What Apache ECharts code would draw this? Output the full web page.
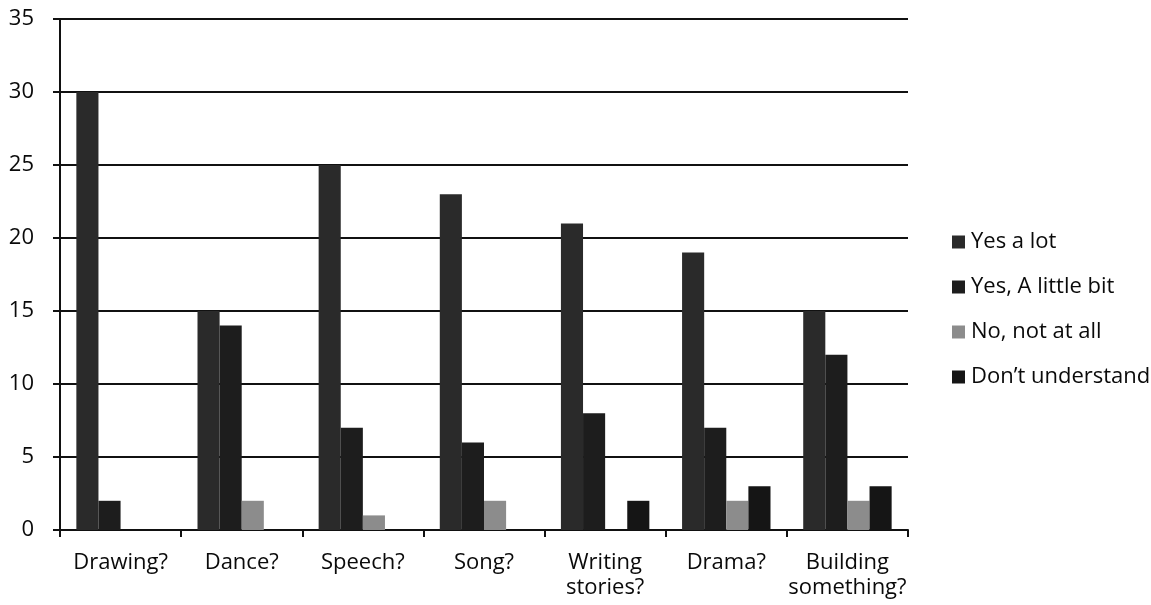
<!DOCTYPE html>
<html><head><meta charset="utf-8">
<script src="https://cdn.jsdelivr.net/npm/echarts@6/dist/echarts.min.js"></script>
<style>html,body{margin:0;padding:0;background:#fff}#c{width:1151px;height:605px}</style>
</head><body><div id="c"></div>
<script>
const categories = ['Drawing?', 'Dance?', 'Speech?', 'Song?', 'Writing\nstories?', 'Drama?', 'Building\nsomething?'];
const seriesNames = ['Yes a lot', 'Yes, A little bit', 'No, not at all', 'Don\u2019t understand'];
const yesALot = [30, 15, 25, 23, 21, 19, 15];
const yesLittle = [2, 14, 7, 6, 8, 7, 12];
const noNotAtAll = [0, 2, 1, 2, 0, 2, 2];
const dontUnderstand = [0, 0, 0, 0, 2, 3, 3];
const yTicks = [0, 5, 10, 15, 20, 25, 30, 35];

const colors = ['#2a2a2a', '#1d1d1d', '#8c8c8c', '#151515'];
const values = [yesALot, yesLittle, noNotAtAll, dontUnderstand];
const font = 'Open Sans';

const chart = echarts.init(document.getElementById('c'));
chart.setOption({
  animation: false,
  textStyle: { fontFamily: font },
  grid: { left: 60, right: 243, top: 19, bottom: 75 },
  legend: {
    orient: 'vertical', left: 947, top: 226, itemWidth: 13, itemHeight: 13, itemGap: 23,
    icon: 'rect',
    textStyle: { fontSize: 22, lineHeight: 22, color: '#0a0a0a', fontFamily: font, padding: [0, 0, 0, 1] },
    data: seriesNames
  },
  xAxis: {
    type: 'category', data: categories,
    axisLine: { lineStyle: { color: '#111', width: 2 } },
    axisTick: { show: true, length: 7, lineStyle: { color: '#111', width: 2 } },
    axisLabel: { fontSize: 22, color: '#0a0a0a', margin: 20, lineHeight: 25, interval: 0 }
  },
  yAxis: {
    type: 'value', min: yTicks[0], max: yTicks[yTicks.length - 1], interval: 5,
    axisLine: { show: true, lineStyle: { color: '#111', width: 2 } },
    axisTick: { show: true, length: 7, lineStyle: { color: '#111', width: 2 } },
    axisLabel: { fontSize: 22, color: '#0a0a0a', margin: 26 },
    splitLine: { lineStyle: { color: '#111', width: 2 } }
  },
  series: seriesNames.map((n, i) => ({
    name: n, type: 'bar', data: values[i],
    barGap: '0%', barCategoryGap: '27%',
    itemStyle: { color: colors[i] }
  }))
});
</script></body></html>
